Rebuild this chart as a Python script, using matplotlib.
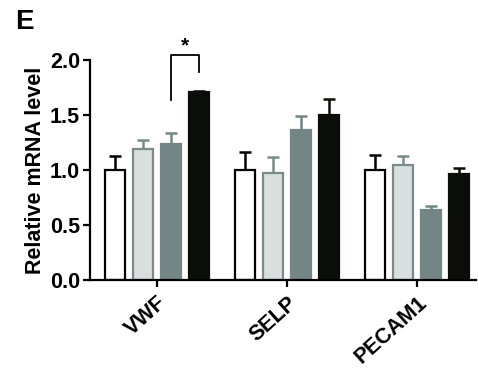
import matplotlib
matplotlib.use("Agg")
import matplotlib.pyplot as plt
import numpy as np

plt.rcParams['font.family'] = ['Liberation Sans', 'DejaVu Sans']
plt.rcParams['font.weight'] = 'bold'

genes = ["VWF", "SELP", "PECAM1"]
ctrl = [1.00, 1.00, 1.00]
ctrl_err = [0.13, 0.16, 0.14]
grp2 = [1.19, 0.97, 1.045]
grp2_err = [0.08, 0.15, 0.085]
grp3 = [1.236, 1.364, 0.636]
grp3_err = [0.10, 0.126, 0.04]
grp4 = [1.71, 1.50, 0.966]
grp4_err = [0.005, 0.15, 0.05]
yticks = [0.0, 0.5, 1.0, 1.5, 2.0]

fig = plt.figure(figsize=(4.78, 3.81), dpi=100)
ax = fig.add_axes([0.188, 0.265, 0.808, 0.5775])

x = np.arange(len(genes))
pitch = 0.215
width = 0.152
series = [
    (ctrl, ctrl_err, 'white', 'black', 'black'),
    (grp2, grp2_err, '#d8dfde', '#7b8b8a', '#7b8b8a'),
    (grp3, grp3_err, '#738584', '#738584', '#738584'),
    (grp4, grp4_err, '#0b0d0b', '#0b0d0b', '#0b0d0b'),
]
for i, (vals, errs, fc, ec, errc) in enumerate(series):
    pos = x + (i - 1.5) * pitch
    ax.errorbar(pos, vals, yerr=[np.zeros(len(vals)), errs], fmt='none',
                ecolor=errc, elinewidth=1.8, capsize=4.5, capthick=1.8, zorder=1)
    ax.bar(pos, vals, width=width, color=fc, edgecolor=ec, linewidth=1.6, zorder=2)

# significance bracket
xl = x[0] + 0.5 * pitch
xr = x[0] + 1.5 * pitch
ax.plot([xl, xl, xr, xr], [1.636, 2.045, 2.045, 1.89], color='black', lw=1.3,
        clip_on=False)
ax.text((xl + xr) / 2, 2.13, '*', ha='center', va='center', fontsize=15,
        fontweight='bold')

ax.set_xlim(-0.515, 2.455)
ax.set_ylim(0, 2.0)
ax.set_yticks(yticks)
ax.set_yticklabels([f"{v:.1f}" for v in yticks], fontsize=15.5, fontweight='bold')
ax.set_xticks(x)
ax.set_xticklabels(genes, rotation=42, ha='right', rotation_mode='anchor',
                   fontsize=15.5, fontweight='bold')
ax.set_ylabel('Relative mRNA level', fontsize=15.5, fontweight='bold', labelpad=3)
for s in ['top', 'right']:
    ax.spines[s].set_visible(False)
for s in ['left', 'bottom']:
    ax.spines[s].set_linewidth(1.6)
ax.tick_params(axis='both', width=1.6, length=5, pad=2)
ax.tick_params(axis='x', pad=4)

fig.text(0.032, 0.942, 'E', fontsize=20, fontweight='bold', va='center')

fig.savefig('out.png', dpi=100)
